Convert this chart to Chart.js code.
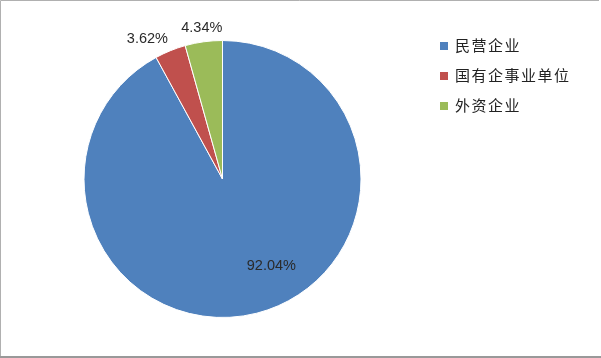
<!DOCTYPE html>
<html>
<head>
<meta charset="utf-8">
<script src="https://cdn.jsdelivr.net/npm/chart.js@4/dist/chart.umd.min.js"></script>
<style>
  body { margin: 0; background: #fff; }
  #wrap { position: relative; width: 601px; height: 358px; }
  #legenda { position: absolute; left: 440px; top: 34px; font-family: "Noto Sans CJK SC", sans-serif; font-size: 15px; color: #222; letter-spacing: 1.5px; }
  #legenda div { height: 30px; line-height: 21px; white-space: nowrap; }
  #legenda span { display: inline-block; width: 8px; height: 8px; margin-right: 7px; vertical-align: 1px; }
</style>
</head>
<body>
<div id="wrap">
  <canvas id="grafico" width="601" height="358"></canvas>
  <div id="legenda"></div>
</div>
<script>
//Dados do gráfico
const categorias = ['民营企业', '国有企事业单位', '外资企业'];
const valores = [92.04, 3.62, 4.34];
const cores = ['#4F81BD', '#C0504D', '#9BBB59'];
const rotulos = ['92.04%', '3.62%', '4.34%'];

//Ajuste dos rótulos: desvio de ângulo (graus) e distância relativa ao raio
const ajusteAngulo = [-15, -6, 0];
const ajusteRaio = [0.72, 1.15, 1.10];

//Plugin para escrever os rótulos de porcentagem e a borda
const pluginRotulos = {
    id: 'rotulos',
    afterDatasetsDraw(chart) {
        const ctx = chart.ctx;
        const arcos = chart.getDatasetMeta(0).data;
        ctx.save();
        ctx.font = '14.5px "Liberation Sans", sans-serif';
        ctx.fillStyle = '#2a2a2a';
        ctx.textAlign = 'center';
        ctx.textBaseline = 'middle';
        for (let i = 0; i < arcos.length; i++) {
            let a = arcos[i];
            let meio = (a.startAngle + a.endAngle) / 2 + ajusteAngulo[i] * Math.PI / 180;
            let d = a.outerRadius * ajusteRaio[i];
            ctx.fillText(rotulos[i], a.x + Math.cos(meio) * d, a.y + Math.sin(meio) * d);
        }
        //Borda (topo, esquerda e base)
        ctx.strokeStyle = '#b0b0b0';
        ctx.lineWidth = 1;
        ctx.beginPath();
        ctx.moveTo(599, 0.5);
        ctx.lineTo(0.5, 0.5);
        ctx.lineTo(0.5, 357);
        ctx.stroke();
        ctx.strokeStyle = '#999';
        ctx.lineWidth = 2;
        ctx.beginPath();
        ctx.moveTo(0, 357);
        ctx.lineTo(601, 357);
        ctx.stroke();
        ctx.restore();
    }
};

const ctx = document.getElementById('grafico');
new Chart(ctx, {
    type: 'pie',
    data: {
        labels: categorias,
        datasets: [{
            data: valores,
            backgroundColor: cores,
            borderColor: '#ffffff',
            borderWidth: 1
        }]
    },
    options: {
        responsive: false,
        animation: false,
        devicePixelRatio: 1,
        layout: { padding: { top: 40, bottom: 40, left: 83, right: 239 } },
        plugins: {
            legend: { display: false },
            tooltip: { enabled: false }
        }
    },
    plugins: [pluginRotulos]
});

//Legenda em HTML
const legenda = document.getElementById('legenda');
for (let i = 0; i < categorias.length; i++) {
    let item = document.createElement('div');
    let quadrado = document.createElement('span');
    quadrado.style.background = cores[i];
    item.appendChild(quadrado);
    item.appendChild(document.createTextNode(categorias[i]));
    legenda.appendChild(item);
}
</script>
</body>
</html>
